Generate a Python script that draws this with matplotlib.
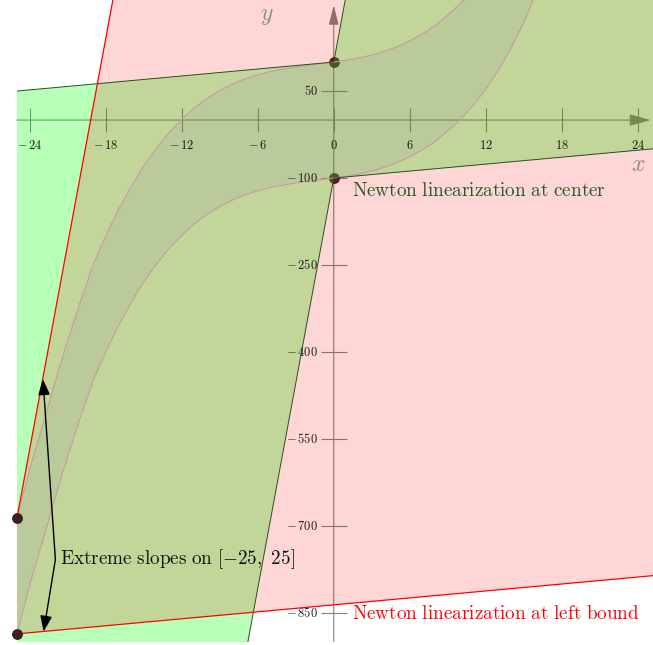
import numpy as np
import matplotlib
matplotlib.use("Agg")
import matplotlib.pyplot as plt

plt.rcParams["mathtext.fontset"] = "cm"

# interval data of the picture
x_ticks = [-24, -18, -12, -6, 0, 6, 12, 18, 24]
y_ticks = [50, -100, -250, -400, -550, -700, -850]
x_hi_bound = 25
center_x, center_lo, center_hi = 0, -100, 100
left_x, left_lo, left_hi = -25, -886, -686
slope_lo, slope_hi = 2, 118

# band edges
x_up = [-25, -24, -23, -22, -21, -20, -19, -18, -17, -16, -15, -14, -13, -12,
        -11, -10, -9, -8, -7, -6, -5, -4, -3, -2, -1, 0,
        1, 2, 3, 4, 5, 6, 7, 8, 9, 10, 11]
y_up = [-686, -602, -528, -452, -380, -313, -250, -200, -155, -115, -79, -48.5,
        -21.6, 1.4, 21, 37.4, 51, 62, 71, 78, 83.7, 88, 91.5, 94.5, 97.2, 100,
        103.2, 107.2, 112, 118.5, 126.5, 136.5, 148.5, 163, 181, 201, 225]
x_dn = [-25, -24, -23, -22, -21, -20, -19, -18, -17, -16, -15, -14, -13, -12,
        -11, -10, -9, -8, -7, -6, -5, -4, -3, -2, -1, 0,
        1, 2, 3, 4, 5, 6, 7, 8, 9, 10, 11, 12, 13, 14, 15, 16]
y_dn = [-886, -802, -728, -652, -580, -513, -450, -400, -355, -315, -279, -248.5,
        -221.6, -198.6, -179, -162.6, -149, -138, -129, -122, -116.3, -112,
        -108.5, -105.5, -102.8, -100,
        -96.8, -92.8, -88, -81.5, -73.5, -63.5, -51.5, -37, -19, 1, 25, 53, 86,
        124, 168, 220]

XL, XR = -25, 25.2
YB, YT = -899.5, 207

fig = plt.figure(figsize=(6.53, 6.45), dpi=100)
ax = fig.add_axes([17 / 653, 3.3 / 645, 636 / 653, 641.7 / 645])
ax.set_xlim(XL, XR)
ax.set_ylim(YB, YT)
ax.set_axis_off()

axc = "#808080"
# axes with arrows (under the fills)
ax.annotate("", xy=(x_hi_bound, 0), xytext=(XL, 0), zorder=1,
            arrowprops=dict(arrowstyle="-|>,head_length=1.3,head_width=0.36",
                            color=axc, lw=0.8, shrinkA=0, shrinkB=0))
ax.annotate("", xy=(0, 198), xytext=(0, YB), zorder=1,
            arrowprops=dict(arrowstyle="-|>,head_length=1.2,head_width=0.3",
                            color=axc, lw=0.8, shrinkA=0, shrinkB=0))
ax.vlines(x_ticks, -21, 21, colors=axc, lw=0.8, zorder=1)
ax.hlines(y_ticks, -1.03, 1.03, colors=axc, lw=0.8, zorder=1)

# points at the centre, drawn under the fills
dot = "#3d1f24"
ax.plot([center_x, center_x], [center_lo, center_hi], "o", color=dot, ms=6.8,
        zorder=1.5)

# Newton linearization at center
xs = np.array([XL, center_x, XR])
g_hi = np.where(xs < center_x, center_hi + slope_lo * (xs - center_x),
                center_hi + slope_hi * (xs - center_x))
g_lo = np.where(xs < center_x, center_lo + slope_hi * (xs - center_x),
                center_lo + slope_lo * (xs - center_x))
ax.fill(np.r_[xs, xs[::-1]], np.r_[g_hi, g_lo[::-1]], color=(0, 1, 0),
        alpha=0.28, lw=0, zorder=2)
ax.plot(xs, g_hi, color="#244f24", lw=0.7, zorder=5)
ax.plot(xs, g_lo, color="#244f24", lw=0.7, zorder=5)

# Newton linearization at left bound
xr = np.array([left_x, XR])
r_hi = left_hi + slope_hi * (xr - left_x)
r_lo = left_lo + slope_lo * (xr - left_x)
ax.fill(np.r_[xr, xr[::-1]], np.r_[r_hi, r_lo[::-1]], color=(1, 0, 0),
        alpha=0.16, lw=0, zorder=3)
ax.plot(xr, r_hi, color="red", lw=0.9, zorder=5)
ax.plot(xr, r_lo, color="red", lw=0.9, zorder=5)

# function band
ax.fill(x_up + x_dn[::-1], y_up + y_dn[::-1], color="#7a7aa0", alpha=0.12,
        lw=0, zorder=4)
ax.plot(x_up, y_up, color="#c99aa5", lw=0.8, zorder=4.5)
ax.plot(x_dn, y_dn, color="#c99aa5", lw=0.8, zorder=4.5)

ax.plot([left_x, left_x], [left_lo, left_hi], "o", color=dot, ms=6.8,
        zorder=6, clip_on=False)


def num(t):
    return r"$-\,%d$" % -t if t < 0 else r"$%d$" % t


# tick labels
for t in x_ticks:
    ax.annotate(num(t), (t, 0), xytext=(0, -18), textcoords="offset points",
                ha="center", va="center", fontsize=9, color="#1a1a1a", zorder=7)
for t in y_ticks:
    ax.annotate(num(t), (0, t), xytext=(-11.5, 0), textcoords="offset points",
                ha="right", va="center", fontsize=9, color="#1a1a1a", zorder=7)

ax.text(24.05, -76, r"$x$", fontsize=17, color="#8c8c8c", ha="center",
        va="center", zorder=7)
ax.text(-5.3, 181, r"$y$", fontsize=17, color="#8c8c8c", ha="center",
        va="center", zorder=7)

ax.text(1.45, -122, r"$\mathrm{Newton\ linearization\ at\ center}$", fontsize=13.8,
        color="#235a23", ha="left", va="center", zorder=7)
ax.text(1.45, -851, r"$\mathrm{Newton\ linearization\ at\ left\ bound}$",
        fontsize=13.8, color="red", ha="left", va="center", zorder=7)

# extreme slopes annotation
vx, vy = -21.97, -758
for tip in [(-22.95, -447), (-22.9, -882)]:
    ax.annotate("", xy=tip, xytext=(vx, vy), zorder=7, annotation_clip=False,
                arrowprops=dict(arrowstyle="-|>,head_length=0.95,head_width=0.36",
                                color="black", lw=1.0, shrinkA=0, shrinkB=0))
ax.text(-21.58, -757, r"$\mathrm{Extreme\ slopes\ on\ }[-25,\ 25]$", fontsize=13.8,
        color="#111111", ha="left", va="center", zorder=7)

fig.savefig("out.png", dpi=100)
